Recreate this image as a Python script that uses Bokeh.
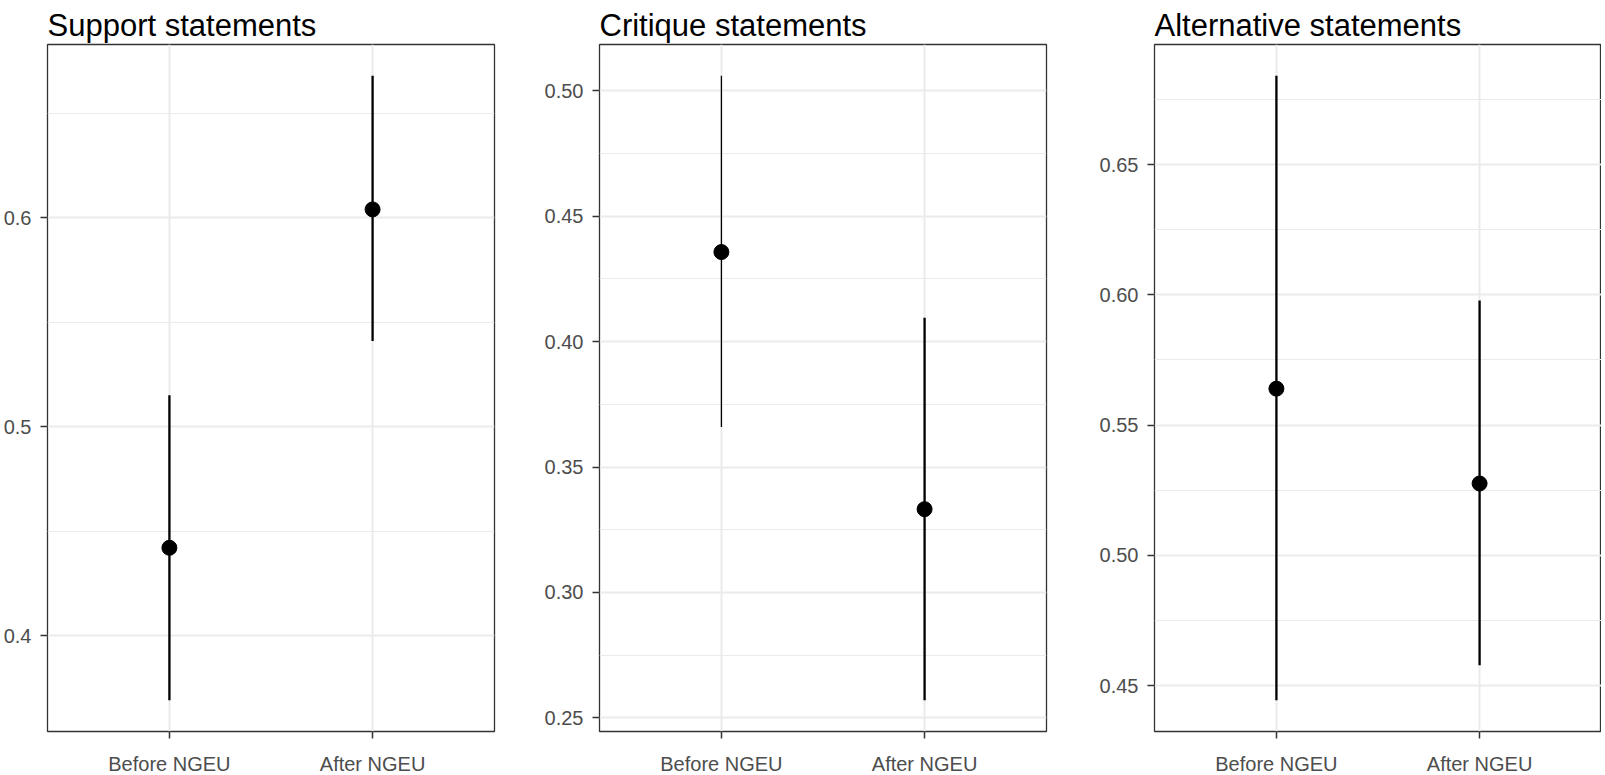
from bokeh.plotting import figure
from bokeh.layouts import row
from bokeh.models import ColumnDataSource, Range1d, FixedTicker, PrintfTickFormatter
from bokeh.embed import file_html
from bokeh.resources import INLINE

# categories on the x axis
periods = ["Before NGEU", "After NGEU"]

# estimated means and interval bounds for each panel
support_mean = [0.442, 0.604]
support_low = [0.369, 0.541]
support_high = [0.515, 0.668]

critique_mean = [0.4357, 0.3332]
critique_low = [0.366, 0.257]
critique_high = [0.506, 0.4095]

alternative_mean = [0.564, 0.5276]
alternative_low = [0.4444, 0.4578]
alternative_high = [0.6841, 0.5978]

# y tick values per panel
support_ticks = [0.4, 0.5, 0.6]
support_minor = [0.35, 0.45, 0.55, 0.65]
critique_ticks = [0.25, 0.30, 0.35, 0.40, 0.45, 0.50]
critique_minor = [0.275, 0.325, 0.375, 0.425, 0.475, 0.525]
alternative_ticks = [0.45, 0.50, 0.55, 0.60, 0.65]
alternative_minor = [0.475, 0.525, 0.575, 0.625, 0.675]

FONT = "Liberation Sans"


def panel(title, mean, low, high, lw, ticks, minor, fmt,
          border_left, border_right, y_standoff):
    xs = [i + 1 for i in range(len(periods))]
    lo, hi = min(low), max(high)
    pad = 0.05 * (hi - lo)
    p = figure(frame_width=447, frame_height=687,
               x_range=Range1d(0.4, len(periods) + 0.6),
               y_range=Range1d(lo - pad, hi + pad),
               min_border_left=border_left, min_border_right=border_right,
               min_border_top=44, min_border_bottom=44,
               output_backend="svg", toolbar_location=None)
    p.title.text = title
    p.title.text_font = FONT
    p.title.text_font_size = "31px"
    p.title.text_font_style = "normal"
    p.title.text_color = "black"
    p.title.text_line_height = 0.75
    p.title.offset = 0
    p.title.standoff = 0
    p.title.vertical_align = "top"

    src = ColumnDataSource(dict(x=xs, mean=mean, low=low, high=high, lw=lw))
    p.segment(x0="x", y0="low", x1="x", y1="high", line_width="lw",
              line_color="black", source=src)
    p.scatter(x="x", y="mean", size=15, color="black", source=src)

    p.outline_line_color = "#333333"
    p.outline_line_width = 1.3

    p.xaxis.ticker = FixedTicker(ticks=xs)
    p.xaxis.major_label_overrides = {x: lab for x, lab in zip(xs, periods)}
    p.yaxis.ticker = FixedTicker(ticks=ticks, minor_ticks=minor)
    p.yaxis.formatter = PrintfTickFormatter(format=fmt)

    for ax in (p.xaxis, p.yaxis):
        ax.axis_line_color = None
        ax.major_tick_line_color = "#333333"
        ax.major_tick_line_width = 1.5
        ax.major_tick_in = 0
        ax.major_tick_out = 7
        ax.minor_tick_line_color = None
        ax.major_label_text_font = FONT
        ax.major_label_text_font_size = "20px"
        ax.major_label_text_color = "#4d4d4d"
    p.xaxis.major_label_standoff = 14
    p.yaxis.major_label_standoff = y_standoff

    p.xgrid.grid_line_color = "#ebebeb"
    p.xgrid.grid_line_width = 2
    p.ygrid.grid_line_color = "#ebebeb"
    p.ygrid.grid_line_width = 2
    p.ygrid.minor_grid_line_color = "#ebebeb"
    p.ygrid.minor_grid_line_width = 1.2
    return p


p1 = panel("Support statements", support_mean, support_low, support_high,
           [2.3, 2.3], support_ticks, support_minor, "%.1f", 46, 10, 9)
p2 = panel("Critique statements", critique_mean, critique_low, critique_high,
           [1.3, 2.3], critique_ticks, critique_minor, "%.2f", 95, 10, 9)
p3 = panel("Alternative statements", alternative_mean, alternative_low,
           alternative_high, [2.3, 2.3], alternative_ticks, alternative_minor,
           "%.2f", 98, 0, 9)

p = row(p1, p2, p3, spacing=0)

open("out.html", "w").write(file_html(p, INLINE))
